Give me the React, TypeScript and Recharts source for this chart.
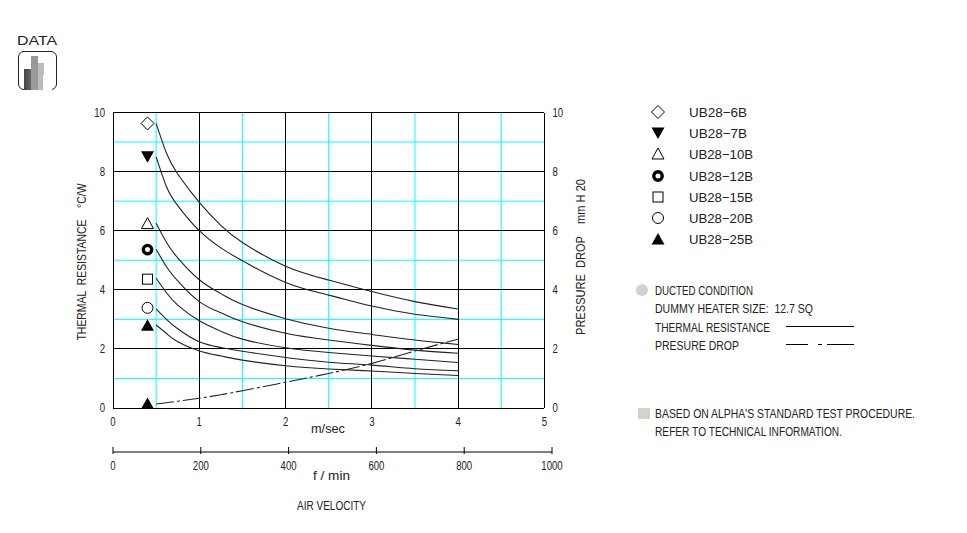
import React from 'react';
import { ComposedChart, LineChart, Line, XAxis, YAxis, CartesianGrid } from 'recharts';

// air velocity, m/sec
const velocity = [0.5, 0.62, 0.75, 1, 1.25, 1.5, 2, 2.5, 3, 3.5, 4];

// thermal resistance, C/W
const ub6 = [9.63, 8.62, 7.92, 6.96, 6.18, 5.6, 4.8, 4.33, 3.94, 3.6, 3.35];
const ub7 = [8.5, 7.49, 6.85, 6.0, 5.42, 4.98, 4.25, 3.82, 3.45, 3.17, 3.0];
const ub10 = [6.25, 5.6, 5.08, 4.34, 3.87, 3.5, 3.02, 2.7, 2.49, 2.3, 2.15];
const ub12 = [5.37, 4.78, 4.3, 3.6, 3.22, 2.92, 2.53, 2.3, 2.12, 1.96, 1.85];
const ub15 = [4.39, 3.9, 3.48, 2.95, 2.6, 2.33, 2.04, 1.88, 1.76, 1.65, 1.54];
const ub20 = [3.35, 3.0, 2.68, 2.24, 2.05, 1.92, 1.71, 1.55, 1.45, 1.33, 1.26];
const ub25 = [2.81, 2.52, 2.24, 1.93, 1.76, 1.62, 1.43, 1.32, 1.25, 1.17, 1.1];

// pressure drop, mm H20
const pressure = [0.135, 0.18, 0.23, 0.33, 0.45, 0.585, 0.87, 1.17, 1.51, 1.93, 2.33];

const seriesKeys = ['ub6', 'ub7', 'ub10', 'ub12', 'ub15', 'ub20', 'ub25'];
const seriesValues = [ub6, ub7, ub10, ub12, ub15, ub20, ub25];
const seriesNames = ['UB28−6B', 'UB28−7B', 'UB28−10B', 'UB28−12B', 'UB28−15B', 'UB28−20B', 'UB28−25B'];
const seriesMarkers = ['diamond', 'triangleDown', 'triangle', 'ring', 'square', 'circle', 'triangleFill'];

// where each curve's marker sits beside the curve
const markerVelocity = 0.4;
const markerValues = [9.63, 8.5, 6.24, 5.36, 4.36, 3.39, 2.8];
const pressureMarkerValue = 0.15;

const velocityTicks = [0, 1, 2, 3, 4, 5];
const valueTicks = [0, 2, 4, 6, 8, 10];
const fpmTicks = [0, 200, 400, 600, 800, 1000];

const blackX = [0, 1, 2, 3, 4, 5];
const cyanX = [0.5, 1.5, 2.5, 3.5, 4.5];
const blackY = [0, 2, 4, 6, 8, 10];
const cyanY = [1, 3, 5, 7, 9];

const tableData = velocity.map((v, i) => {
  const row: Record<string, number> = { v, pressure: pressure[i] };
  seriesKeys.forEach((key, s) => {
    row[key] = seriesValues[s][i];
  });
  return row;
});

const FONT = '"Liberation Sans", sans-serif';
const INK = '#222';

const Marker = ({ type, cx, cy }: { type: string; cx: number; cy: number }) => {
  const common = { stroke: '#000', strokeWidth: 1, fill: 'none' };
  switch (type) {
    case 'diamond':
      return <polygon points={`${cx - 6.5},${cy} ${cx},${cy - 6.5} ${cx + 6.5},${cy} ${cx},${cy + 6.5}`} {...common} />;
    case 'triangleDown':
      return <polygon points={`${cx - 6.5},${cy - 5.5} ${cx + 6.5},${cy - 5.5} ${cx},${cy + 6}`} fill="#000" />;
    case 'triangle':
      return <polygon points={`${cx - 6},${cy + 5} ${cx + 6},${cy + 5} ${cx},${cy - 6}`} {...common} />;
    case 'ring':
      return <circle cx={cx} cy={cy} r={4.2} fill="none" stroke="#000" strokeWidth={3.4} />;
    case 'square':
      return <rect x={cx - 5} y={cy - 5} width={10} height={10} {...common} />;
    case 'circle':
      return <circle cx={cx} cy={cy} r={5.5} {...common} />;
    default:
      return <polygon points={`${cx - 6.5},${cy + 5.5} ${cx + 6.5},${cy + 5.5} ${cx},${cy - 6}`} fill="#000" />;
  }
};

// the source font is a thin narrow plotter face, so squeeze the numbers a bit
const NarrowTick = (props: any) => {
  const { x, y, payload, textAnchor } = props;
  return (
    <text
      transform={`translate(${x} ${y + 4}) scale(0.8 1)`}
      textAnchor={textAnchor}
      fill={INK}
      fontSize={12}
      fontFamily={FONT}
    >
      {payload.value}
    </text>
  );
};

const FpmTick = (props: any) => {
  const { x, y, payload } = props;
  return (
    <g>
      <line x1={x} y1={y} x2={x} y2={y - 7} stroke="#000" />
      <NarrowTick x={x} y={y + 12} payload={payload} textAnchor="middle" />
    </g>
  );
};

const Label = ({ x, y, children, size = 12, rotate, width }: any) => (
  <text
    x={x}
    y={y}
    fill={INK}
    fontSize={size}
    fontFamily={FONT}
    textLength={width}
    lengthAdjust="spacingAndGlyphs"
    xmlSpace="preserve"
    transform={rotate ? `rotate(${rotate} ${x} ${y})` : undefined}
  >
    {children}
  </text>
);

export default function App() {
  return (
    <div style={{ position: 'absolute', left: 0, top: 0, width: 967, height: 533, background: '#fff', overflow: 'hidden' }}>
      <div style={{ position: 'absolute', left: 0, top: 0 }}>
        <ComposedChart
          width={967}
          height={533}
          data={tableData}
          margin={{ top: 112.5, right: 392.6, bottom: 95, left: 83 }}
        >
          <CartesianGrid yAxisId="left" stroke="#00ffff" strokeWidth={1} verticalValues={cyanX} horizontalValues={cyanY} />
          <CartesianGrid yAxisId="left" stroke="#000" strokeWidth={1} verticalValues={blackX} horizontalValues={blackY} shapeRendering="crispEdges" />
          <XAxis
            dataKey="v"
            type="number"
            domain={[0, 5]}
            ticks={velocityTicks}
            axisLine={false}
            tickLine={false}
            tick={<NarrowTick />}
            height={30}
            tickMargin={8}
            interval={0}
          />
          <YAxis
            yAxisId="left"
            type="number"
            domain={[0, 10]}
            ticks={valueTicks}
            axisLine={false}
            tickLine={false}
            tick={<NarrowTick />}
            width={30}
            tickMargin={2}
            interval={0}
          />
          <YAxis
            yAxisId="right"
            orientation="right"
            type="number"
            domain={[0, 10]}
            ticks={valueTicks}
            axisLine={false}
            tickLine={false}
            tick={<NarrowTick />}
            width={30}
            tickMargin={2}
            interval={0}
          />
          {seriesKeys.map((key) => (
            <Line
              key={key}
              yAxisId="left"
              type="natural"
              dataKey={key}
              stroke={INK}
              strokeWidth={1.1}
              dot={false}
              isAnimationActive={false}
            />
          ))}
          <Line
            yAxisId="right"
            type="natural"
            dataKey="pressure"
            stroke={INK}
            strokeWidth={1.1}
            strokeDasharray="18 3 3 3"
            dot={false}
            isAnimationActive={false}
          />
          {seriesKeys.map((key, s) => (
            <Line
              key={`${key}-marker`}
              yAxisId="left"
              data={[{ v: markerVelocity, y: markerValues[s] }]}
              dataKey="y"
              stroke="none"
              dot={(p: any) => <Marker key={key} type={seriesMarkers[s]} cx={p.cx} cy={p.cy} />}
              isAnimationActive={false}
            />
          ))}
          <Line
            yAxisId="right"
            data={[{ v: markerVelocity, y: pressureMarkerValue }]}
            dataKey="y"
            stroke="none"
            dot={(p: any) => <Marker key="pressure" type="triangleFill" cx={p.cx} cy={p.cy} />}
            isAnimationActive={false}
          />
        </ComposedChart>
      </div>

      {/* second velocity scale, runs a little past the plot */}
      <div style={{ position: 'absolute', left: 0, top: 0 }}>
        <LineChart
          width={967}
          height={533}
          data={fpmTicks.map((f) => ({ f }))}
          margin={{ top: 300, right: 415, bottom: 51, left: 113 }}
        >
          <XAxis
            dataKey="f"
            type="number"
            domain={[0, 1000]}
            ticks={fpmTicks}
            axisLine={{ stroke: '#000' }}
            tickLine={false}
            tickSize={0}
            tick={<FpmTick />}
            height={30}
            interval={0}
          />
          <YAxis hide domain={[0, 1]} />
        </LineChart>
      </div>

      <svg width={967} height={533} style={{ position: 'absolute', left: 0, top: 0 }}>
        <Label x={17} y={45} size={13} width={40}>DATA</Label>

        <Label x={86} y={340.5} rotate={-90} width={157}>THERMAL  RESISTANCE    °C/W</Label>
        <Label x={585} y={335} rotate={-90} width={156}>PRESSURE  DROP    mm H 20</Label>
        <Label x={311} y={433} width={34}>m/sec</Label>
        <Label x={313} y={480} width={37}>f / min</Label>
        <Label x={297} y={510} width={69}>AIR VELOCITY</Label>

        {seriesNames.map((name, i) => (
          <g key={name} transform={`translate(0 ${[112, 133, 154, 176, 197, 218, 239][i]})`}>
            <Marker type={seriesMarkers[i]} cx={658} cy={0} />
            <Label x={689} y={5} size={13} width={name.length > 7 ? 64 : 58}>{name}</Label>
          </g>
        ))}

        <circle cx={642} cy={290} r={6} fill="#d2d2d2" />
        <Label x={655} y={295} width={98}>DUCTED CONDITION</Label>
        <Label x={655} y={313} width={158}>DUMMY HEATER SIZE:  12.7 SQ</Label>
        <Label x={655} y={332} width={115}>THERMAL RESISTANCE</Label>
        <Label x={655} y={350} width={84}>PRESURE DROP</Label>
        <line x1={786} y1={326.5} x2={854} y2={326.5} stroke="#000" />
        <line x1={786} y1={344.5} x2={854} y2={344.5} stroke="#000" strokeDasharray="22 10 4 5 27" />

        <rect x={638} y={408} width={12} height={11} fill="#d2d2d2" />
        <Label x={655} y={418} width={260}>BASED ON ALPHA'S STANDARD TEST PROCEDURE.</Label>
        <Label x={655} y={436} width={187}>REFER TO TECHNICAL INFORMATION.</Label>
      </svg>

      {/* DATA badge */}
      <div style={{ position: 'absolute', left: 18, top: 51, width: 37, height: 37, border: '1px solid #222', borderRadius: 6 }} />
      <div style={{ position: 'absolute', left: 24, top: 88, width: 28, height: 2, background: '#fff' }} />
      <div style={{ position: 'absolute', left: 24, top: 69, width: 7, height: 21, background: 'linear-gradient(90deg, #444, #666)' }} />
      <div style={{ position: 'absolute', left: 31, top: 56, width: 7, height: 34, background: '#999' }} />
      <div style={{ position: 'absolute', left: 38, top: 63, width: 6, height: 12, background: '#bbb' }} />
      <div style={{ position: 'absolute', left: 38, top: 75, width: 5, height: 15, background: '#bbb' }} />
    </div>
  );
}
